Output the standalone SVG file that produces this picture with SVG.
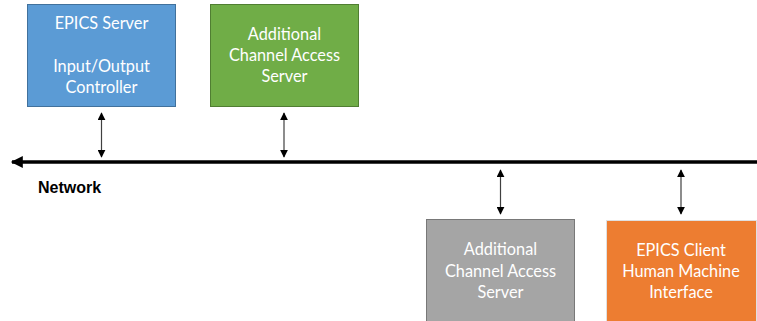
<svg xmlns="http://www.w3.org/2000/svg" width="757" height="321" viewBox="0 0 757 321">
<defs>
<style>
.lbl{font-family:Lato,"Open Sans","Liberation Sans",sans-serif;font-size:16.3px;fill:#ffffff;text-anchor:middle}
.net{font-family:"Liberation Sans",Arial,sans-serif;font-size:16px;font-weight:bold;fill:#000}
.link{stroke:#404040;stroke-width:1.2;fill:none;marker-start:url(#ah);marker-end:url(#ah)}
</style>
<marker id="ah" viewBox="0 0 10 10" refX="9" refY="5" markerWidth="8" markerHeight="8" markerUnits="userSpaceOnUse" orient="auto-start-reverse">
<path d="M0,0 L10,5 L0,10 z" fill="#000"/>
</marker>
<marker id="big" viewBox="0 0 10 10" refX="9" refY="5" markerWidth="14" markerHeight="12" markerUnits="userSpaceOnUse" orient="auto-start-reverse">
<path d="M0,0 L10,5 L0,10 z" fill="#000"/>
</marker>
</defs>
<rect width="757" height="321" fill="#fff"/>
<g id="connectors">
<line x1="757" y1="162" x2="12" y2="162" stroke="#000" stroke-width="3.5" marker-end="url(#big)"/>
<line class="link" x1="101.5" y1="113" x2="101.5" y2="157"/>
<line class="link" x1="284" y1="113" x2="284" y2="157"/>
<line class="link" x1="500.5" y1="170" x2="500.5" y2="214"/>
<line class="link" x1="681" y1="170" x2="681" y2="214"/>
</g>
<g id="network-label"><text class="net" x="38" y="193">Network</text></g>
<g id="epics-server">
<rect x="27.5" y="4.5" width="148" height="102" fill="#5B9BD5" stroke="#41719C" stroke-width="1"/>
<text class="lbl" x="101.5" y="29">EPICS Server</text>
<text class="lbl" x="101.5" y="72">Input/Output</text>
<text class="lbl" x="101.5" y="93">Controller</text>
</g>
<g id="ca-server-1">
<rect x="210.5" y="4.5" width="148" height="102" fill="#70AD47" stroke="#507E32" stroke-width="1"/>
<text class="lbl" x="284.5" y="40">Additional</text>
<text class="lbl" x="284.5" y="61">Channel Access</text>
<text class="lbl" x="284.5" y="82">Server</text>
</g>
<g id="ca-server-2">
<rect x="426.5" y="219.5" width="148" height="110" fill="#A5A5A5" stroke="#787878" stroke-width="1"/>
<text class="lbl" x="500.5" y="255">Additional</text>
<text class="lbl" x="500.5" y="277">Channel Access</text>
<text class="lbl" x="500.5" y="298">Server</text>
</g>
<g id="epics-client">
<rect x="606.5" y="220.5" width="150" height="110" fill="#ED7D31" stroke="#E0E0E0" stroke-width="1"/>
<text class="lbl" x="681" y="256">EPICS Client</text>
<text class="lbl" x="681" y="277">Human Machine</text>
<text class="lbl" x="681" y="298">Interface</text>
</g>
</svg>
